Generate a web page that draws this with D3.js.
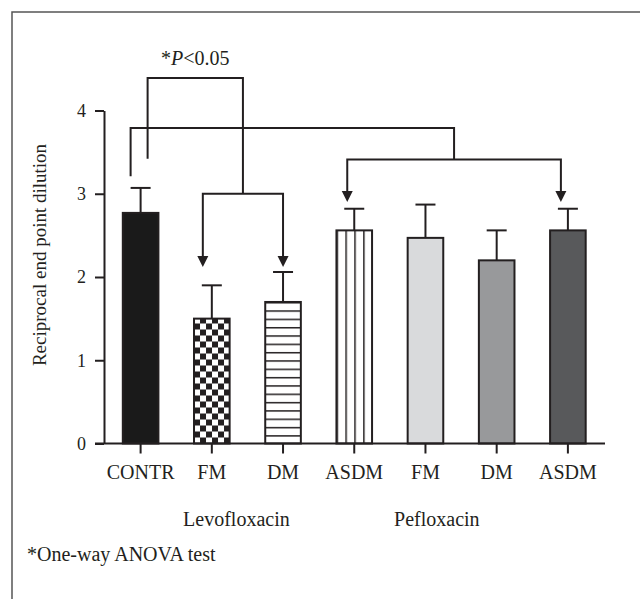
<!DOCTYPE html>
<html>
<head>
<meta charset="utf-8">
<script src="https://cdn.jsdelivr.net/npm/d3@7"></script>
<style>
  body { margin: 0; background: #fff; }
  text { font-family: "Liberation Serif", "Times New Roman", serif; fill: #231f20; }
</style>
</head>
<body>
<script>
// chart data
const categories = ["CONTR", "FM", "DM", "ASDM", "FM2", "DM2", "ASDM2"];
const tickNames = ["CONTR", "FM", "DM", "ASDM", "FM", "DM", "ASDM"];
const means = [2.77, 1.50, 1.70, 2.56, 2.47, 2.20, 2.56];
const errors = [0.30, 0.40, 0.36, 0.26, 0.40, 0.36, 0.26];
const yTicks = [0, 1, 2, 3, 4];
const groupNames = ["Levofloxacin", "Pefloxacin"];

const W = 640, H = 599;
const ink = "#231f20";

const svg = d3.select("body").append("svg")
  .attr("width", W)
  .attr("height", H);

// outer frame (cut off at right and bottom like the figure)
svg.append("rect")
  .attr("x", 12).attr("y", 12)
  .attr("width", 700).attr("height", 700)
  .attr("fill", "none")
  .attr("stroke", "#555")
  .attr("stroke-width", 1.5);

// scales
const x = d3.scaleBand()
  .domain(categories)
  .range([105, 603.5])
  .paddingInner(0.5)
  .paddingOuter(0.25);

const y = d3.scaleLinear()
  .domain([0, 4])
  .range([443.5, 110.5]);

const bw = x.bandwidth();

// patterns for the levofloxacin bars
const defs = svg.append("defs");

const checker = defs.append("pattern")
  .attr("id", "checker")
  .attr("patternUnits", "userSpaceOnUse")
  .attr("x", x("FM")).attr("y", y(0))
  .attr("width", 12).attr("height", 12);
checker.append("rect").attr("width", 12).attr("height", 12).attr("fill", "#fff");
checker.append("rect").attr("width", 6).attr("height", 6).attr("fill", ink);
checker.append("rect").attr("x", 6).attr("y", 6).attr("width", 6).attr("height", 6).attr("fill", ink);

const step = y(0) - y(0.1);
const hlines = defs.append("pattern")
  .attr("id", "hlines")
  .attr("patternUnits", "userSpaceOnUse")
  .attr("x", 0).attr("y", y(0))
  .attr("width", 10).attr("height", step);
hlines.append("rect").attr("width", 10).attr("height", step).attr("fill", "#fff");
hlines.append("line")
  .attr("x1", 0).attr("x2", 10).attr("y1", 0.75).attr("y2", 0.75)
  .attr("stroke", ink).attr("stroke-width", 1.5);

const vw = bw / 4;
const vlines = defs.append("pattern")
  .attr("id", "vlines")
  .attr("patternUnits", "userSpaceOnUse")
  .attr("x", x("ASDM")).attr("y", 0)
  .attr("width", vw).attr("height", 10);
vlines.append("rect").attr("width", vw).attr("height", 10).attr("fill", "#fff");
vlines.append("line")
  .attr("x1", 0.75).attr("x2", 0.75).attr("y1", 0).attr("y2", 10)
  .attr("stroke", ink).attr("stroke-width", 1.5);

const fills = ["#1a1a1a", "url(#checker)", "url(#hlines)", "url(#vlines)", "#d9dadc", "#98999b", "#58595b"];

// error bars (drawn first so the bar covers the lower half)
const err = svg.append("g").attr("stroke", ink).attr("stroke-width", 2);
err.selectAll("line.stem")
  .data(categories)
  .enter()
  .append("line")
  .attr("class", "stem")
  .attr("x1", d => x(d) + bw / 2)
  .attr("x2", d => x(d) + bw / 2)
  .attr("y1", (d, i) => y(means[i]))
  .attr("y2", (d, i) => y(means[i] + errors[i]));
err.selectAll("line.cap")
  .data(categories)
  .enter()
  .append("line")
  .attr("class", "cap")
  .attr("x1", d => x(d) + bw / 2 - 10)
  .attr("x2", d => x(d) + bw / 2 + 10)
  .attr("y1", (d, i) => y(means[i] + errors[i]))
  .attr("y2", (d, i) => y(means[i] + errors[i]));

// bars
svg.selectAll("rect.bar")
  .data(categories)
  .enter()
  .append("rect")
  .attr("class", "bar")
  .attr("x", d => x(d))
  .attr("y", (d, i) => y(means[i]))
  .attr("width", bw)
  .attr("height", (d, i) => y(0) - y(means[i]))
  .attr("fill", (d, i) => fills[i])
  .attr("stroke", ink)
  .attr("stroke-width", 2);

// y axis
const yAxis = d3.axisLeft(y).tickValues(yTicks).tickFormat(d3.format("d"))
  .tickSize(9).tickSizeOuter(0).tickPadding(9);
const gy = svg.append("g")
  .attr("transform", "translate(104,0)")
  .call(yAxis);
gy.select(".domain").attr("stroke", ink).attr("stroke-width", 2);
gy.selectAll(".tick line").attr("stroke", ink).attr("stroke-width", 2);
gy.selectAll(".tick text")
  .style("font-family", "Liberation Serif, Times New Roman, serif")
  .style("font-size", "18px")
  .attr("fill", ink);

// x axis
const xAxis = d3.axisBottom(x).tickSize(10).tickSizeOuter(0).tickPadding(8)
  .tickFormat((d, i) => tickNames[i]);
const gx = svg.append("g")
  .attr("transform", "translate(0," + y(0) + ")")
  .call(xAxis);
gx.select(".domain").remove();
gx.append("line")
  .attr("x1", 95).attr("x2", 605)
  .attr("stroke", ink).attr("stroke-width", 2);
gx.selectAll(".tick line").attr("stroke", ink).attr("stroke-width", 2);
gx.selectAll(".tick text")
  .style("font-family", "Liberation Serif, Times New Roman, serif")
  .style("font-size", "20px")
  .attr("fill", ink)
  .attr("dy", "0.85em");

// group labels
const mid = (a, b) => (x(a) + x(b) + bw) / 2;
svg.selectAll("text.group")
  .data(groupNames)
  .enter()
  .append("text")
  .attr("class", "group")
  .attr("x", (d, i) => i === 0 ? mid("FM", "DM") - 11 : mid("ASDM", "FM2") + 47)
  .attr("y", 526)
  .attr("text-anchor", "middle")
  .style("font-size", "20px")
  .text(d => d);

// y label
svg.append("text")
  .attr("transform", "translate(46,255) rotate(-90)")
  .attr("text-anchor", "middle")
  .style("font-size", "19px")
  .text("Reciprocal end point dilution");

// footnote
svg.append("text")
  .attr("x", 27).attr("y", 561)
  .style("font-size", "20px")
  .text("*One-way ANOVA test");

// significance brackets
const cx = d => x(d) + bw / 2;
const br = svg.append("g")
  .attr("fill", "none")
  .attr("stroke", ink)
  .attr("stroke-width", 2);

function arrow(px, tipY) {
  svg.append("path")
    .attr("d", `M${px - 5.5},${tipY - 11}L${px + 5.5},${tipY - 11}L${px},${tipY}Z`)
    .attr("fill", ink);
}

// control vs levofloxacin
const aL = cx("CONTR") + 7, aR = (cx("FM") - 9 + cx("DM")) / 2;
br.append("path").attr("d",
  `M${aL},${y(3.42)}V${y(4.39)}H${aR}V${y(3.0)}`);
br.append("path").attr("d",
  `M${cx("FM") - 9},${y(2.12) - 8}V${y(3.0)}H${cx("DM")}V${y(2.12) - 8}`);
arrow(cx("FM") - 9, y(2.12));
arrow(cx("DM"), y(2.12));

// control vs pefloxacin
const bL = cx("CONTR") - 10, bR = (cx("ASDM") + cx("ASDM2")) / 2 - 7;
br.append("path").attr("d",
  `M${bL},${y(3.21)}V${y(3.79)}H${bR}V${y(3.41)}`);
br.append("path").attr("d",
  `M${cx("ASDM") - 7},${y(2.90) - 8}V${y(3.41)}H${cx("ASDM2") - 7}V${y(2.90) - 8}`);
arrow(cx("ASDM") - 7, y(2.90));
arrow(cx("ASDM2") - 7, y(2.90));

// significance label
const sig = svg.append("text")
  .attr("x", (aL + aR) / 2)
  .attr("y", 65)
  .attr("text-anchor", "middle")
  .style("font-size", "20px");
sig.append("tspan").text("*");
sig.append("tspan").style("font-style", "italic").text("P");
sig.append("tspan").text("<0.05");
</script>
</body>
</html>
